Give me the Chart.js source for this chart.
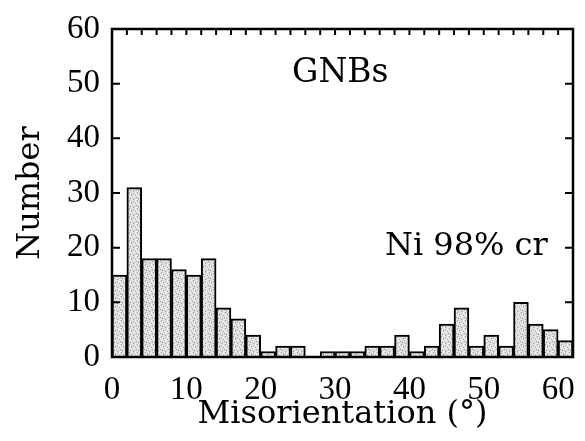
<!DOCTYPE html>
<html>
<head>
<meta charset="utf-8">
<script src="https://cdn.jsdelivr.net/npm/chart.js@4.4.0/dist/chart.umd.min.js"></script>
<style>
  html, body { margin: 0; padding: 0; background: #fff; }
</style>
</head>
<body>
<canvas id="histChart" width="585" height="441"></canvas>
<script>
// Misorientation histogram of GNBs, 2 degree bins
const binStarts = [0, 2, 4, 6, 8, 10, 12, 14, 16, 18, 20, 22, 24, 26, 28, 30,
                   32, 34, 36, 38, 40, 42, 44, 46, 48, 50, 52, 54, 56, 58, 60];
const counts = [15, 31, 18, 18, 16, 15, 18, 9, 7, 4, 1, 2, 2, 0, 1, 1,
                1, 2, 2, 4, 1, 2, 6, 9, 2, 4, 2, 10, 6, 5, 3];
const xTickValues = [0, 10, 20, 30, 40, 50, 60];
const yTickValues = [0, 10, 20, 30, 40, 50, 60];
const binWidth = 2;

// text placed inside the plot, in data units
const notes = [
    { text: 'GNBs', x: 30.7, y: 50.3, align: 'center', size: 33 },
    { text: 'Ni 98% cr', x: 36.7, y: 18.7, align: 'left', size: 32 }
];

// grey speckled fill for the bars
function stipple() {
    const c = document.createElement('canvas');
    c.width = 8; c.height = 8;
    const g = c.getContext('2d');
    g.fillStyle = '#e2e2e2';
    g.fillRect(0, 0, 8, 8);
    const specks = [[1, 0, '#8c8c8c'], [5, 1, '#b0b0b0'], [3, 2, '#7a7a7a'], [7, 3, '#a4a4a4'],
                    [0, 5, '#9a9a9a'], [4, 4, '#c0c0c0'], [2, 6, '#888888'], [6, 6, '#b4b4b4'],
                    [5, 7, '#9c9c9c'], [7, 0, '#f4f4f4'], [2, 3, '#f4f4f4'], [6, 4, '#f4f4f4']];
    specks.forEach(([px, py, col]) => { g.fillStyle = col; g.fillRect(px, py, 1, 1); });
    return g.createPattern(c, 'repeat');
}

// box around the plot, inward ticks and the two notes
const framePlugin = {
    id: 'frame',
    afterDatasetsDraw(chart) {
        const { ctx, chartArea: a, scales: { x, y } } = chart;
        ctx.save();
        ctx.strokeStyle = '#000';
        ctx.lineWidth = 2;
        ctx.beginPath();
        binStarts.forEach(v => {
            if (v === 0) return;
            const px = x.getPixelForValue(v);
            ctx.moveTo(px, a.top);
            ctx.lineTo(px, a.top + 6);
        });
        yTickValues.forEach(v => {
            const py = y.getPixelForValue(v);
            ctx.moveTo(a.left, py); ctx.lineTo(a.left + 8, py);
            ctx.moveTo(a.right, py); ctx.lineTo(a.right - 8, py);
        });
        ctx.stroke();
        ctx.lineWidth = 2.5;
        ctx.strokeRect(a.left, a.top, a.right - a.left, a.bottom - a.top);

        ctx.fillStyle = '#000';
        ctx.textBaseline = 'alphabetic';
        notes.forEach(n => {
            ctx.font = n.size + 'px "DejaVu Serif"';
            ctx.textAlign = n.align;
            ctx.fillText(n.text, x.getPixelForValue(n.x), y.getPixelForValue(n.y));
        });
        ctx.restore();
    }
};

const ctx = document.getElementById('histChart').getContext('2d');

const histChart = new Chart(ctx, {
    type: 'bar',
    data: {
        datasets: [{
            data: binStarts.map((s, i) => ({ x: s + binWidth / 2, y: counts[i] })),
            backgroundColor: stipple(),
            borderColor: '#000',
            borderWidth: 2,
            borderSkipped: 'bottom',
            barPercentage: 1,
            categoryPercentage: 1
        }]
    },
    options: {
        responsive: false,
        animation: false,
        devicePixelRatio: 1,
        layout: { padding: { top: 29, right: 12, left: 0, bottom: 0 } },
        plugins: {
            legend: { display: false },
            tooltip: { enabled: false }
        },
        scales: {
            x: {
                type: 'linear',
                min: 0,
                max: 62,
                offset: false,
                grid: { display: false, drawTicks: false, offset: false },
                border: { display: false },
                afterBuildTicks: s => { s.ticks = xTickValues.map(v => ({ value: v })); },
                afterFit: s => { s.height = 84; s.paddingLeft = 0; s.paddingRight = 0; },
                ticks: {
                    padding: 14,
                    color: '#000',
                    maxRotation: 0,
                    autoSkip: false,
                    font: { family: 'Liberation Serif', size: 33 }
                },
                title: {
                    display: true,
                    text: 'Misorientation (°)',
                    color: '#000',
                    font: { family: 'DejaVu Serif', size: 32, lineHeight: 1.2 },
                    padding: { top: 0, bottom: 7 }
                }
            },
            y: {
                min: 0,
                max: 60,
                grid: { display: false, drawTicks: false },
                border: { display: false },
                afterBuildTicks: s => { s.ticks = yTickValues.map(v => ({ value: v })); },
                afterFit: s => { s.width = 112; s.paddingTop = 0; s.paddingBottom = 0; },
                ticks: {
                    padding: 12,
                    color: '#000',
                    font: { family: 'Liberation Serif', size: 33 }
                },
                title: {
                    display: true,
                    text: 'Number',
                    color: '#000',
                    font: { family: 'DejaVu Serif', size: 32, lineHeight: 1.2 },
                    padding: { top: 11, bottom: 0 }
                }
            }
        }
    },
    plugins: [framePlugin]
});
</script>
</body>
</html>
